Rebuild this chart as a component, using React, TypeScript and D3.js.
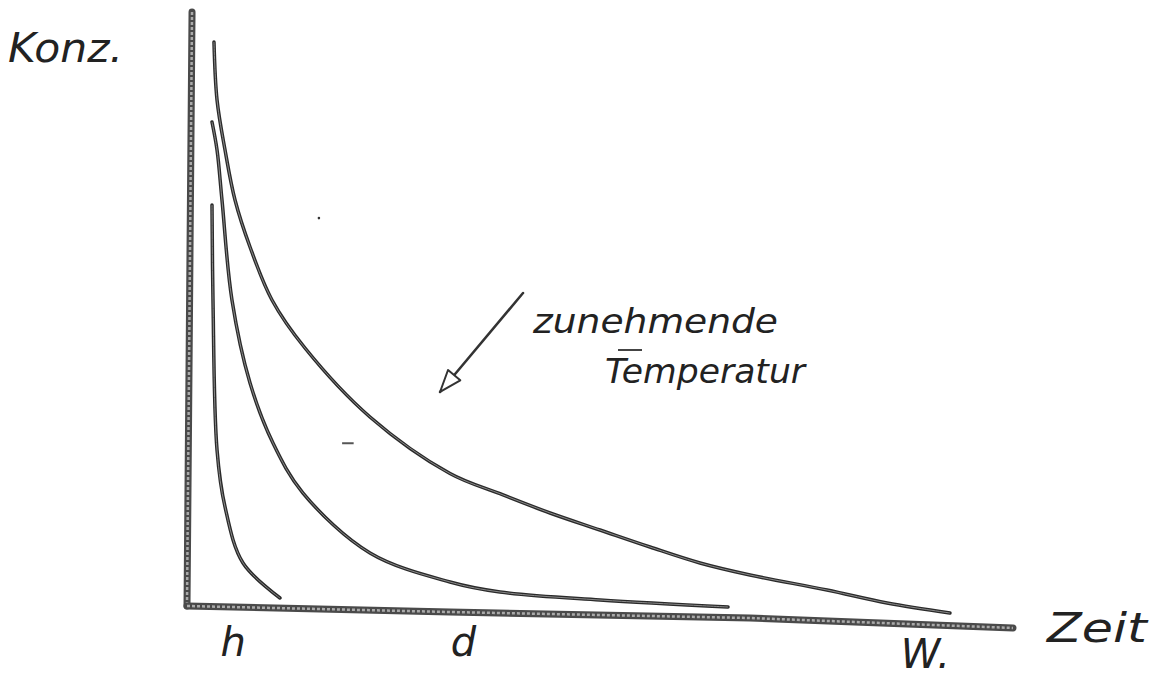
import React from "react";
import * as d3 from "d3";

// Data in sketch units: time 0..100 (x), concentration 0..100 (y)
const curveSlow: [number, number][] = [
  [3.27, 94.95], [3.64, 85.19], [4.61, 76.77], [5.82, 68.35], [7.64, 60.44],
  [10.3, 51.52], [14.3, 43.43], [22.18, 31.82], [31.88, 22.3], [37.94, 18.9],
  [44.0, 15.66], [50.06, 12.79], [56.12, 9.93], [62.18, 7.24], [68.24, 5.22],
  [77.58, 2.69], [84.85, 0.51], [92.48, -1.18],
];
const curveMedium: [number, number][] = [
  [3.03, 81.48], [3.64, 76.77], [4.24, 68.35], [5.45, 51.52], [7.64, 37.54],
  [10.42, 27.44], [14.06, 19.02], [22.18, 8.92], [31.88, 4.04], [37.94, 2.36],
  [50.06, 1.01], [65.58, -0.17],
];
const curveFast: [number, number][] = [
  [3.03, 67.51], [3.15, 51.52], [3.64, 26.26], [4.61, 16.67], [6.79, 7.24], [11.27, 1.35],
];
const yAxisLine: [number, number][] = [[0.61, 100], [0, 0]];
const xAxisLine: [number, number][] = [[0, 0], [31.88, -1.01], [68.24, -2.02], [100.12, -3.7]];
const arrowLine: [number, number][] = [[40.73, 52.69], [30.67, 36.03]];

const yLabel = "Konz.";
const xLabel = "Zeit";
const tickLabels = ["h", "d", "W."];
const tickPositions = [5.6, 33.5, 89.5];
const annotationLines = ["zunehmende", "Temperatur"];

const W = 1151;
const H = 677;

export default function App() {
  const x = d3.scaleLinear().domain([0, 100]).range([187, 1012]);
  const y = d3.scaleLinear().domain([0, 100]).range([606, 12]);
  const smooth = d3
    .line<[number, number]>()
    .x((d) => x(d[0]))
    .y((d) => y(d[1]))
    .curve(d3.curveCatmullRom.alpha(0.5));
  const straight = d3
    .line<[number, number]>()
    .x((d) => x(d[0]))
    .y((d) => y(d[1]));

  // arrow head geometry from arrow data
  const [a0, a1] = arrowLine;
  const tx = x(a1[0]);
  const ty = y(a1[1]);
  const dx = x(a1[0]) - x(a0[0]);
  const dy = y(a1[1]) - y(a0[1]);
  const len = Math.hypot(dx, dy);
  const ux = dx / len;
  const uy = dy / len;
  const headL = 22;
  const headW = 8;
  const bx = tx - ux * headL;
  const by = ty - uy * headL;
  const head = `M${bx + -uy * headW},${by + ux * headW} L${tx},${ty} L${bx - -uy * headW},${by - ux * headW} Z`;

  const curves = [curveSlow, curveMedium, curveFast];
  const font = "'DejaVu Sans', sans-serif";

  return (
    <svg
      width={W}
      height={H}
      style={{ position: "fixed", left: 0, top: 0, background: "#fff" }}
    >
      {/* axes */}
      {[yAxisLine, xAxisLine].map((d, i) => (
        <g key={i}>
          <path d={straight(d) ?? ""} fill="none" stroke="#4a4a4a" strokeWidth={7} strokeLinecap="round" />
          <path d={straight(d) ?? ""} fill="none" stroke="#aaa" strokeWidth={2.5} strokeDasharray="3 2" />
        </g>
      ))}

      {/* curves */}
      {curves.map((c, i) => (
        <g key={i}>
          <path d={smooth(c) ?? ""} fill="none" stroke="#2a2a2a" strokeWidth={3.5} strokeLinecap="round" />
          <path d={smooth(c) ?? ""} fill="none" stroke="#8a8a8a" strokeWidth={1} />
        </g>
      ))}

      {/* arrow */}
      <path d={straight(arrowLine) ?? ""} fill="none" stroke="#333" strokeWidth={2.5} strokeLinecap="round" />
      <path d={head} fill="#fff" stroke="#333" strokeWidth={2} strokeLinejoin="round" />

      {/* stray pencil marks */}
      <line x1={x(18.8)} x2={x(20.2)} y1={y(27.4)} y2={y(27.4)} stroke="#555" strokeWidth={2} />
      <circle cx={x(15.99)} cy={y(65.3)} r={1.3} fill="#333" />

      {/* labels */}
      <text x={8} y={62} fontFamily={font} fontStyle="italic" fontSize={40} fill="#222" textLength={115} lengthAdjust="spacingAndGlyphs">
        {yLabel}
      </text>
      <text x={1047} y={642} fontFamily={font} fontStyle="italic" fontSize={40} fill="#222" textLength={100} lengthAdjust="spacingAndGlyphs">
        {xLabel}
      </text>
      {tickLabels.map((t, i) => (
        <text
          key={t}
          x={x(tickPositions[i])}
          y={i === 2 ? 668 : 656}
          fontFamily={font}
          fontStyle="italic"
          fontSize={40}
          fill="#222"
          textAnchor="middle"
        >
          {t}
        </text>
      ))}
      <text x={533} y={333} fontFamily={font} fontStyle="italic" fontSize={34} fill="#222" textLength={245} lengthAdjust="spacingAndGlyphs">
        {annotationLines[0]}
      </text>
      <line x1={618} x2={642} y1={350} y2={350} stroke="#444" strokeWidth={2} />
      <text x={605} y={383} fontFamily={font} fontStyle="italic" fontSize={34} fill="#222" textLength={200} lengthAdjust="spacingAndGlyphs">
        {annotationLines[1]}
      </text>
    </svg>
  );
}
